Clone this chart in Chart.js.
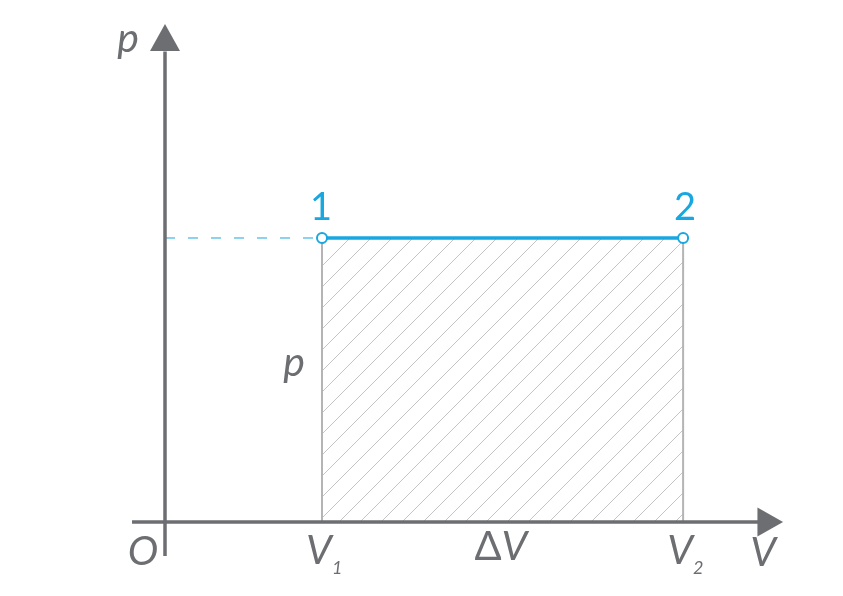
<!DOCTYPE html>
<html>
<head>
<meta charset="utf-8">
<script src="https://cdn.jsdelivr.net/npm/chart.js@4"></script>
<style>
  html, body { margin: 0; padding: 0; overflow: hidden; background: #fff; }
  #wrap { width: 843px; height: 596px; position: relative; }
</style>
</head>
<body>
<div id="wrap"><canvas id="chart-pv"></canvas></div>
<script>
// isobaric process data
const volumes = [1.5, 4.95];        // V1, V2
const pressure = [3, 3];            // p at state 1 and 2
const stateNames = ["1", "2"];
const tickNames = ["V", "V", "V"];
const tickPrefix = ["", "\u0394", ""];
const tickSubs = ["1", "", "2"];
const axisNames = ["O", "V", "p"];

const gray = "#6d6e71";
const blue = "#18a7e0";
const textFont = "Lato";

// scale ranges (origin sits at 165,522 px)
const xRange = [-1.5764, 6.4775];
const yRange = [-0.7817, 5.514];

// hatch pattern for the work area
function makeHatch() {
  const c = document.createElement("canvas");
  c.width = 21;
  c.height = 21;
  const g = c.getContext("2d");
  g.strokeStyle = "#c4c4c4";
  g.lineWidth = 1;
  g.beginPath();
  g.moveTo(-1, 22); g.lineTo(22, -1);
  g.moveTo(-2, 2); g.lineTo(2, -2);
  g.moveTo(19, 23); g.lineTo(23, 19);
  g.stroke();
  return g.createPattern(c, "repeat");
}

// axes, arrow heads and labels
const decorPlugin = {
  id: "decor",
  afterDatasetsDraw(chart) {
    const ctx = chart.ctx;
    const xs = chart.scales.x;
    const ys = chart.scales.y;
    const ox = xs.getPixelForValue(0);
    const oy = ys.getPixelForValue(0);

    ctx.save();
    ctx.strokeStyle = gray;
    ctx.fillStyle = gray;
    ctx.lineWidth = 3.5;
    // x axis
    ctx.beginPath();
    ctx.moveTo(xs.getPixelForValue(-0.315), oy);
    ctx.lineTo(xs.getPixelForValue(5.67), oy);
    ctx.stroke();
    // y axis
    ctx.beginPath();
    ctx.moveTo(ox, ys.getPixelForValue(-0.36));
    ctx.lineTo(ox, ys.getPixelForValue(4.97));
    ctx.stroke();

    // arrow heads
    const xb = xs.getPixelForValue(5.66), xt = xs.getPixelForValue(5.905);
    ctx.beginPath();
    ctx.moveTo(xt, oy);
    ctx.lineTo(xb, oy - 14.5);
    ctx.lineTo(xb, oy + 14.5);
    ctx.closePath();
    ctx.fill();
    const yb = ys.getPixelForValue(4.975), yt = ys.getPixelForValue(5.26);
    ctx.beginPath();
    ctx.moveTo(ox, yt);
    ctx.lineTo(ox - 15, yb);
    ctx.lineTo(ox + 15, yb);
    ctx.closePath();
    ctx.fill();

    // axis names
    ctx.textAlign = "center";
    ctx.textBaseline = "alphabetic";
    ctx.font = "italic 41px " + textFont;
    ctx.fillText(axisNames[0], ox - 22, oy + 43);
    ctx.fillText(axisNames[1], xt - 20, oy + 44);
    ctx.fillText(axisNames[2], ox - 37, 52);

    // tick labels under the axis
    const tickX = [volumes[0], (volumes[0] + volumes[1]) / 2, volumes[1]];
    tickNames.forEach((name, i) => {
      const px = xs.getPixelForValue(tickX[i]);
      if (tickPrefix[i]) {
        ctx.font = "40px " + textFont;
        ctx.textAlign = "right";
        ctx.fillText(tickPrefix[i], px - 1, oy + 38);
        ctx.font = "italic 41px " + textFont;
        ctx.textAlign = "left";
        ctx.fillText(name, px - 1, oy + 38);
        return;
      }
      ctx.font = "italic 41px " + textFont;
      ctx.textAlign = "center";
      ctx.fillText(name, px - 3, oy + 42);
      if (tickSubs[i]) {
        ctx.font = "italic 18px " + textFont;
        ctx.textAlign = "left";
        ctx.fillText(tickSubs[i], px + 10, oy + 52);
      }
    });

    // p label inside the area
    ctx.textAlign = "center";
    ctx.font = "italic 41px " + textFont;
    ctx.fillText(axisNames[2], xs.getPixelForValue(volumes[0]) - 28,
      ys.getPixelForValue(pressure[0] / 2) - 4);

    // state numbers
    ctx.fillStyle = blue;
    ctx.font = "38px " + textFont;
    stateNames.forEach((name, i) => {
      ctx.fillText(name, xs.getPixelForValue(volumes[i]) + (i === 0 ? -1 : 2),
        ys.getPixelForValue(pressure[i]) - 18);
    });
    ctx.restore();
  },
};

const ctx = document.getElementById("chart-pv").getContext("2d");
const chart = new Chart(ctx, {
  type: "scatter",
  data: {
    datasets: [
      {
        // 1 -> 2 isobar
        showLine: true,
        data: [
          { x: volumes[0], y: pressure[0] },
          { x: volumes[1], y: pressure[1] },
        ],
        borderColor: blue,
        borderWidth: 3.5,
        pointRadius: 5,
        pointBorderWidth: 2,
        pointBorderColor: blue,
        pointBackgroundColor: "#fff",
        order: 0,
      },
      {
        // dashed guide to the p axis
        showLine: true,
        data: [
          { x: 0, y: pressure[0] },
          { x: volumes[0], y: pressure[0] },
        ],
        borderColor: blue,
        borderWidth: 1,
        borderDash: [10, 13],
        pointRadius: 0,
        order: 1,
      },
      {
        // hatched work area
        showLine: true,
        data: [
          { x: volumes[0], y: 0 },
          { x: volumes[0], y: pressure[0] },
          { x: volumes[1], y: pressure[1] },
          { x: volumes[1], y: 0 },
        ],
        borderColor: "#b4b4b4",
        borderWidth: 2,
        pointRadius: 0,
        fill: "origin",
        backgroundColor: makeHatch(),
        order: 2,
      },
    ],
  },
  options: {
    responsive: true,
    maintainAspectRatio: false,
    animation: false,
    layout: { padding: 0, autoPadding: false },
    plugins: {
      legend: { display: false },
      tooltip: { enabled: false },
    },
    scales: {
      x: { type: "linear", display: false, min: xRange[0], max: xRange[1] },
      y: { type: "linear", display: false, min: yRange[0], max: yRange[1] },
    },
  },
  plugins: [decorPlugin],
});
</script>
</body>
</html>
